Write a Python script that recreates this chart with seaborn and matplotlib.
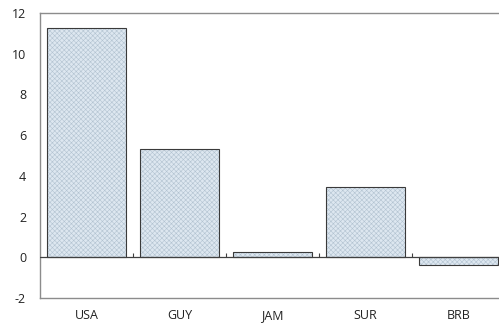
import matplotlib
matplotlib.use("Agg")
import matplotlib.pyplot as plt
from matplotlib.patches import Rectangle
import seaborn as sns
import numpy as np
import pandas as pd

countries = ["USA", "GUY", "JAM", "SUR", "BRB"]
values = [11.25, 5.3, 0.25, 3.45, -0.38]
y_ticks = [-2, 0, 2, 4, 6, 8, 10, 12]

sns.set_theme(style="white")
plt.rcParams["font.family"] = ["Open Sans", "DejaVu Sans"]
plt.rcParams["hatch.linewidth"] = 0.4

df = pd.DataFrame({"country": countries, "value": values})

fig = plt.figure(figsize=(4.99, 3.26), dpi=100)
ax = fig.add_axes([40 / 499, 1 - 298 / 326, 465 / 499, 285 / 326])

sns.barplot(data=df, x="country", y="value", color="#dde7f0", width=0.84,
            edgecolor="#b3c3d1", linewidth=0, saturation=1, ax=ax)
# fine cross-hatch in a light tone, then a dark outline on top
for p in list(ax.patches):
    p.set_hatch("xxxxxxx")
    p.set_linewidth(0)
    ax.add_patch(Rectangle(p.get_xy(), p.get_width(), p.get_height(),
                           fill=False, edgecolor="#3a3a3a", linewidth=0.8,
                           zorder=p.get_zorder() + 0.1))

ax.set_ylim(-2, 12)
ax.set_xlim(-0.5, len(countries) - 0.5)
ax.set_yticks(y_ticks)
ax.set_yticklabels([str(t) for t in y_ticks])
ax.set_xlabel("")
ax.set_ylabel("")

# zero line with small separators between categories
ax.axhline(0, color="#404040", linewidth=0.9, zorder=3)
bounds = np.arange(len(countries) - 1) + 0.5
ax.vlines(bounds, 0, 0.22, color="#404040", linewidth=0.8, zorder=3)

for side in ["left", "top", "bottom", "right"]:
    ax.spines[side].set_color("#8c8c8c")
    ax.spines[side].set_linewidth(1.0)

ax.tick_params(axis="y", direction="in", length=4, width=0.8, color="#8c8c8c",
               labelsize=9, labelcolor="#222222", pad=10)
ax.tick_params(axis="x", length=0, labelsize=9, labelcolor="#222222", pad=8)

fig.savefig("out.png", dpi=100)
